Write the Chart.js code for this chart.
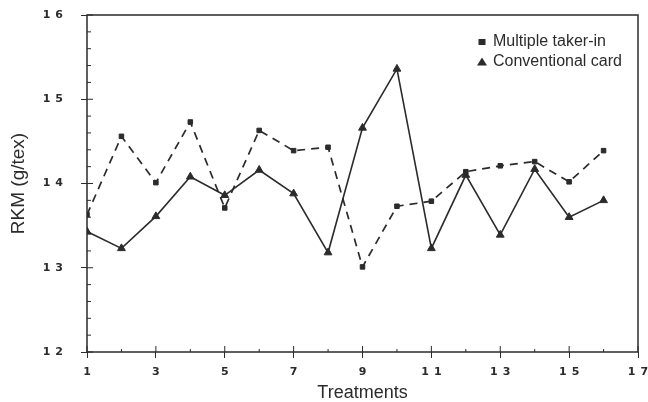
<!DOCTYPE html>
<html>
<head>
<meta charset="utf-8">
<script src="https://cdn.jsdelivr.net/npm/chart.js@4.4.1/dist/chart.umd.min.js"></script>
<style>
  html, body { margin: 0; padding: 0; background: #fff; }
  #wrap { width: 648px; height: 402px; position: relative; }
</style>
</head>
<body>
<div id="wrap"><canvas id="rkmChart" width="648" height="402"></canvas></div>
<script>
const treatments = [1, 2, 3, 4, 5, 6, 7, 8, 9, 10, 11, 12, 13, 14, 15, 16];
const multipleTakerIn = [13.63, 14.56, 14.01, 14.73, 13.71, 14.63, 14.39, 14.43, 13.01, 13.73, 13.79, 14.14, 14.21, 14.26, 14.02, 14.39];
const conventionalCard = [13.43, 13.23, 13.61, 14.08, 13.86, 14.16, 13.88, 13.18, 14.66, 15.36, 13.23, 14.10, 13.39, 14.17, 13.60, 13.80];
const xTicks = [1, 3, 5, 7, 9, 11, 13, 15, 17];
const yTicks = [12, 13, 14, 15, 16];

const ink = '#2b2b2b';

const isMajorY = v => yTicks.some(t => Math.abs(t - v) < 1e-6);
const isMajorX = v => xTicks.includes(Math.round(v));

// tick labels are drawn after the datasets (ticks.z = 1) with wide letter spacing
const spacingPlugin = {
  id: 'spacing',
  afterDatasetsDraw(chart) {
    chart.ctx.letterSpacing = '5px';
  }
};

// frame, inner ticks and legend
const framePlugin = {
  id: 'frame',
  afterDraw(chart) {
    const { ctx, chartArea: a, scales } = chart;
    ctx.letterSpacing = '0px';
    ctx.save();
    ctx.strokeStyle = ink;
    ctx.lineWidth = 1.5;
    ctx.strokeRect(a.left, a.top, a.right - a.left, a.bottom - a.top);

    ctx.lineWidth = 1;
    scales.y.ticks.forEach(t => {
      const py = scales.y.getPixelForValue(t.value);
      const len = isMajorY(t.value) ? 6 : 4;
      ctx.beginPath();
      ctx.moveTo(a.left, py);
      ctx.lineTo(a.left + len, py);
      ctx.stroke();
    });
    scales.x.ticks.forEach(t => {
      const px = scales.x.getPixelForValue(t.value);
      const len = isMajorX(t.value) ? 6 : 3;
      ctx.beginPath();
      ctx.moveTo(px, a.bottom);
      ctx.lineTo(px, a.bottom - len);
      ctx.stroke();
    });

    // legend
    const items = [
      { label: 'Multiple taker-in', style: 'rect' },
      { label: 'Conventional card', style: 'triangle' }
    ];
    ctx.font = '16px "Liberation Sans", Arial, sans-serif';
    ctx.textBaseline = 'middle';
    ctx.fillStyle = ink;
    items.forEach((it, i) => {
      const y = 42 + i * 20;
      const x = 482;
      ctx.beginPath();
      if (it.style === 'rect') {
        ctx.rect(x - 3.5, y - 3, 7, 6);
      } else {
        ctx.moveTo(x, y - 4.5);
        ctx.lineTo(x + 5, y + 3.5);
        ctx.lineTo(x - 5, y + 3.5);
        ctx.closePath();
      }
      ctx.fill();
      ctx.fillText(it.label, 493, y);
    });
    ctx.restore();
  }
};

new Chart(document.getElementById('rkmChart'), {
  type: 'line',
  data: {
    datasets: [
      {
        label: 'Multiple taker-in',
        data: treatments.map((t, i) => ({ x: t, y: multipleTakerIn[i] })),
        borderColor: ink,
        backgroundColor: ink,
        borderWidth: 1.7,
        borderDash: [8, 6],
        pointStyle: 'rect',
        pointRadius: 3.2,
        pointBorderWidth: 1,
        tension: 0
      },
      {
        label: 'Conventional card',
        data: treatments.map((t, i) => ({ x: t, y: conventionalCard[i] })),
        borderColor: ink,
        backgroundColor: ink,
        borderWidth: 1.6,
        pointStyle: 'triangle',
        pointRadius: 4.5,
        pointBorderWidth: 1,
        tension: 0
      }
    ]
  },
  options: {
    responsive: false,
    animation: false,
    events: [],
    layout: { padding: { top: 15, right: 10, left: 0, bottom: 0 } },
    plugins: {
      legend: { display: false },
      tooltip: { enabled: false }
    },
    scales: {
      x: {
        type: 'linear',
        min: 1,
        max: 17,
        afterFit: s => { s.height = 50; s.paddingLeft = 0; s.paddingRight = 0; },
        ticks: {
          z: 1,
          stepSize: 1,
          autoSkip: false,
          maxRotation: 0,
          padding: 8,
          labelOffset: 2.5,
          color: ink,
          font: { family: '"DejaVu Sans", sans-serif', size: 11, weight: 'bold' },
          callback: v => isMajorX(v) ? String(v) : ''
        },
        grid: {
          drawOnChartArea: false,
          tickLength: 6,
          color: c => c.tick && isMajorX(c.tick.value) ? ink : 'transparent'
        },
        border: { display: false },
        title: {
          display: true,
          text: 'Treatments',
          color: ink,
          font: { family: '"Liberation Sans", Arial, sans-serif', size: 18 },
          padding: { top: 0, bottom: -2 }
        }
      },
      y: {
        min: 12,
        max: 16,
        afterFit: s => { s.width = 87; s.paddingTop = 0; s.paddingBottom = 0; },
        ticks: {
          z: 1,
          stepSize: 0.2,
          autoSkip: false,
          padding: 13,
          color: ink,
          font: { family: '"DejaVu Sans", sans-serif', size: 11, weight: 'bold' },
          callback: v => isMajorY(v) ? String(Math.round(v)) : ''
        },
        grid: {
          drawOnChartArea: false,
          tickLength: 6,
          color: c => c.tick && isMajorY(c.tick.value) ? ink : 'transparent'
        },
        border: { display: false },
        title: {
          display: true,
          text: 'RKM (g/tex)',
          color: ink,
          font: { family: '"Liberation Sans", Arial, sans-serif', size: 19 },
          padding: { top: 7, bottom: 0 }
        }
      }
    }
  },
  plugins: [spacingPlugin, framePlugin]
});
</script>
</body>
</html>
